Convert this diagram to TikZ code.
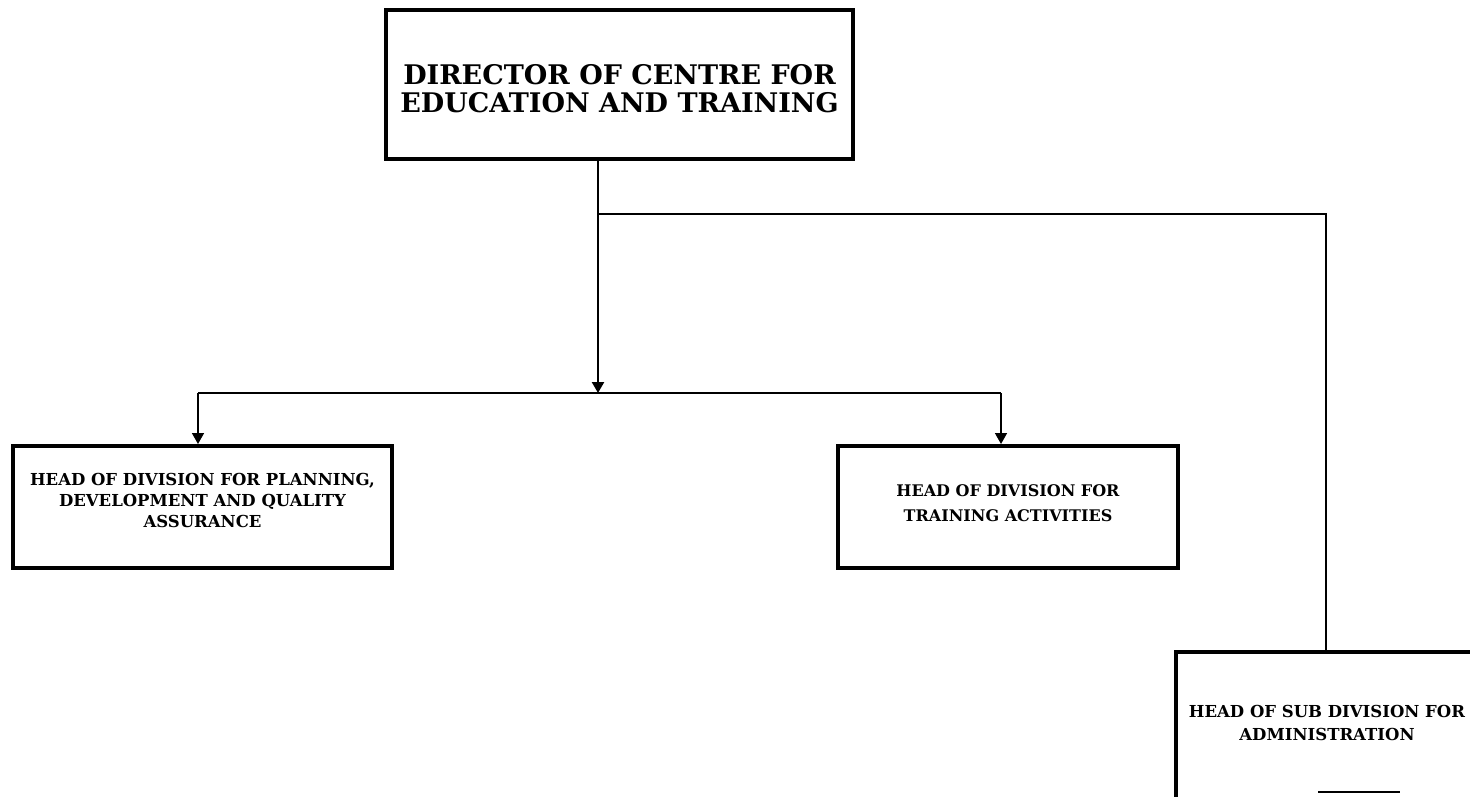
\documentclass[tikz,border=0pt]{standalone}
\usepackage{fontspec}
\setmainfont{DejaVu Serif}
\usetikzlibrary{arrows.meta}
\begin{document}
\begin{tikzpicture}[x=1pt,y=-1pt,
  box/.style={draw=black,line width=4pt,fill=white,inner sep=0pt},
  lbl/.style={inner sep=0pt,align=center,font=\bfseries},
  conn/.style={line width=1.6pt,draw=black},
  arr/.style={conn,-{Triangle[width=12pt,length=11pt]}}]
\useasboundingbox (0,0) rectangle (1470,796);
\clip (0,0) rectangle (1470,796);
\node[box,minimum width=467pt,minimum height=149pt] (dir) at (619.5,84.5) {};
\node[lbl,font=\bfseries\fontsize{27}{28}\selectfont] (dirt) at (619.5,89) {DIRECTOR OF CENTRE FOR\\EDUCATION AND TRAINING};
\node[box,minimum width=379pt,minimum height=122pt] (pl) at (202.5,507) {};
\node[lbl,font=\bfseries\fontsize{16.5}{21}\selectfont] (plt) at (202.5,500) {HEAD OF DIVISION FOR PLANNING,\\DEVELOPMENT AND QUALITY\\ASSURANCE};
\node[box,minimum width=340pt,minimum height=122pt] (tr) at (1008,507) {};
\node[lbl,font=\bfseries\fontsize{16}{25}\selectfont] (trt) at (1008,503) {HEAD OF DIVISION FOR\\TRAINING ACTIVITIES};
\node[box,minimum width=300pt,minimum height=170pt] (sub) at (1326,737) {};
\node[lbl,font=\bfseries\fontsize{16.5}{23}\selectfont] (subt) at (1327,723) {HEAD OF SUB DIVISION FOR\\ADMINISTRATION};
\coordinate (j1) at (598,214);
\coordinate (j2) at (598,393);
\coordinate (a1) at (198,393);
\coordinate (a2) at (1001,393);
\draw[arr,line width=2.4pt] (dir.south -| j1) -- (j2);
\draw[conn] (a1) -- (a2);
\draw[arr] (a1) -- (a1 |- pl.north);
\draw[arr] (a2) -- (a2 |- tr.north);
\draw[conn] (j1) -| (sub.north);
\coordinate (f1) at (1318,792);
\coordinate (f2) at (1400,792);
\draw[line width=2pt] (f1) -- (f2);
\end{tikzpicture}
\end{document}
